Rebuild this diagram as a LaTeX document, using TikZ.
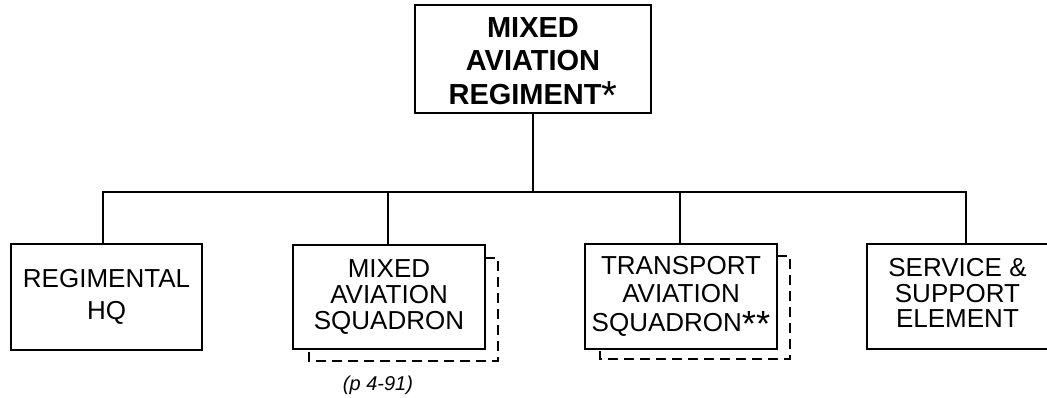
\documentclass[tikz,border=0pt]{standalone}
\usepackage{fontspec}
\usepackage{graphicx}
\setmainfont{Liberation Sans}
\newcommand\bigast{{\mdseries\raisebox{-0.2em}{\scalebox{1.4}{*}}}}
\begin{document}
\begin{tikzpicture}[x=1pt,y=1pt,
  unitbox/.style={draw, line width=1.8pt, inner sep=0pt, outer sep=0pt, align=center, anchor=north west},
  link/.style={line width=1.3pt},
  shadowline/.style={line width=1.2pt, dash pattern=on 10pt off 6pt}]
\useasboundingbox (0,0) rectangle (1047,398);
% top box
\node[unitbox, minimum width=236pt, minimum height=108pt,
  font=\fontsize{29}{33.5}\selectfont\bfseries] (top) at (415,393)
  {\rule{0pt}{29pt}MIXED\\AVIATION\\REGIMENT\bigast};
% bottom boxes
\node[unitbox, minimum width=191pt, minimum height=106pt,
  font=\fontsize{26}{32}\selectfont] (rhq) at (11,154)
  {REGIMENTAL\\HQ};
\node[unitbox, minimum width=192pt, minimum height=104pt,
  font=\fontsize{26}{26}\selectfont] (mas) at (293,153)
  {MIXED\\AVIATION\\SQUADRON};
\node[unitbox, minimum width=192pt, minimum height=105pt,
  font=\fontsize{26}{28.5}\selectfont] (tas) at (585,154)
  {TRANSPORT\\AVIATION\\SQUADRON\bigast\bigast\rule[-2pt]{0pt}{2pt}};
\node[unitbox, minimum width=181pt, minimum height=105pt,
  font=\fontsize{26}{25.5}\selectfont] (sse) at (867,154)
  {SERVICE \&\\SUPPORT\\ELEMENT\rule[-7pt]{0pt}{7pt}};
% reference note
\node[anchor=base, inner sep=0pt, font=\fontsize{20}{22}\selectfont\itshape] (note) at (378,7) {(p 4-91)};
% connectors
\coordinate (bus) at (533,206);
\draw[link] (top.south) -- (top.south |- bus);
\draw[link] ([xshift=-3.5pt]rhq.north) |- (bus) -| ([xshift=8.5pt]sse.north);
\draw[link] ([xshift=-1pt]mas.north) -- ([xshift=-1pt]mas.north |- bus);
\draw[link] ([xshift=-1pt]tas.north) -- ([xshift=-1pt]tas.north |- bus);
% dashed shadows
\draw[shadowline] ([yshift=-13pt]mas.north east) -| ([xshift=13pt,yshift=-12pt]mas.south east) -| ([xshift=16pt]mas.south west);
\draw[shadowline] ([yshift=-12pt]tas.north east) -| ([xshift=13pt,yshift=-10pt]tas.south east) -| ([xshift=15pt]tas.south west);
\end{tikzpicture}
\end{document}
